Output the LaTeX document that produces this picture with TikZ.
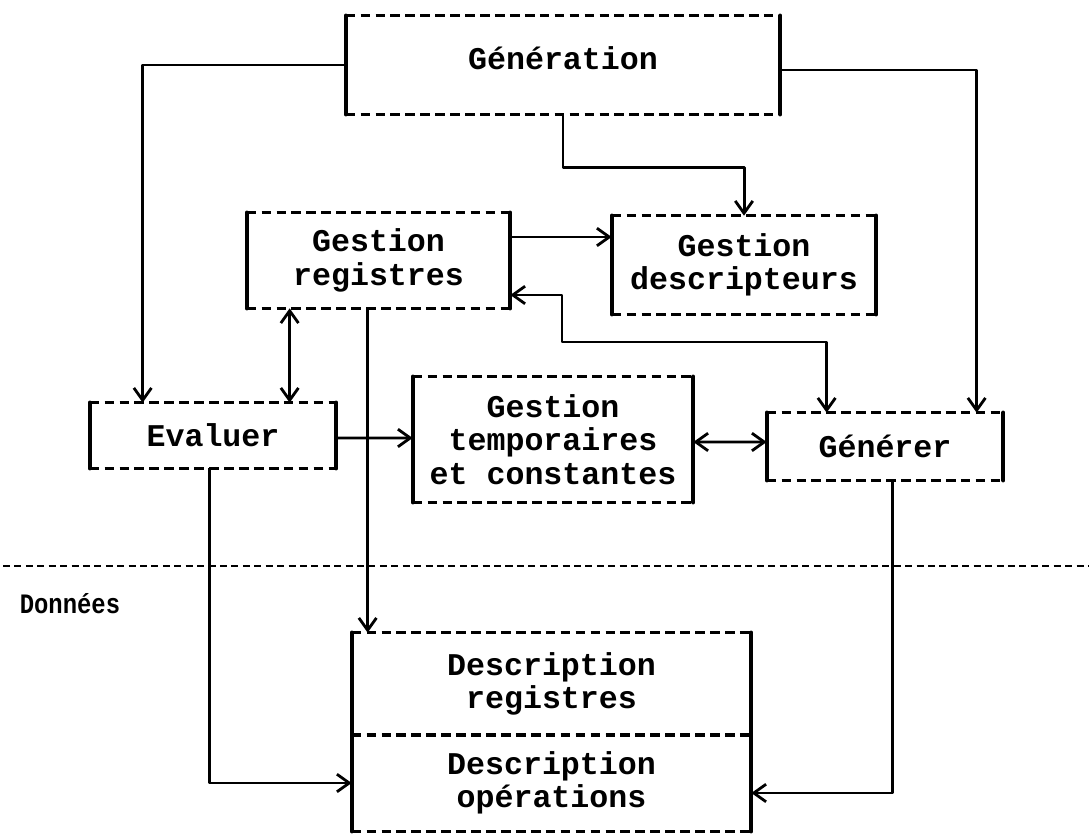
\documentclass[tikz,border=0pt]{standalone}
\usepackage{fontspec}
\setmonofont{Liberation Mono}
\newfontfamily\donfont{Liberation Mono}[FakeStretch=0.85]
\usetikzlibrary{arrows.meta,calc}
\tikzset{
  lbl/.style={rectangle, inner sep=0pt, align=center,
    font=\ttfamily\bfseries\fontsize{18}{19}\selectfont},
  sz/.style 2 args={minimum width=#1*0.02cm, minimum height=#2*0.02cm},
  side/.style={line width=2.4pt, line cap=round},
  rim/.style={line width=2pt, dash pattern=on 5.5pt off 3pt},
  tip/.tip={Straight Barb[length=7pt, width=10pt, line width=1.6pt]},
  conn/.style={line width=1.7pt, line join=round, -tip},
  dconn/.style={line width=1.7pt, line join=round, tip-tip},
  sep/.style={line width=1.4pt, dash pattern=on 4pt off 2.5pt},
}
% solid left and right sides, dashed top and bottom
\newcommand\boxsides[1]{%
  \draw[side] (#1.north west) -- (#1.south west) (#1.north east) -- (#1.south east);
  \draw[rim] (#1.north west) -- (#1.north east) (#1.south west) -- (#1.south east);
}
\begin{document}
\begin{tikzpicture}[x=0.02cm, y=-0.02cm]
\useasboundingbox (0,0) rectangle (1089,834);

% modules
\node[lbl, sz={434}{98}]  (gen)    at (563,65)    {\raisebox{8pt}{Génération}};
\node[lbl, sz={263}{95}]  (greg)   at (378.5,260.5) {Gestion\\registres};
\node[lbl, sz={264}{98}]  (gdesc)  at (744,265)   {Gestion\\descripteurs};
\node[lbl, sz={246}{65}]  (eval)   at (213,435.5) {Evaluer};
\node[lbl, sz={280}{125}] (gtemp)  at (553,439.5) {Gestion\\temporaires\\et constantes};
\node[lbl, sz={236}{67}]  (gener)  at (885,446.5) {Générer};
\node[lbl, sz={399}{102}] (descreg) at (551.5,684) {Description\\registres};
\node[lbl, sz={399}{96}]  (descop)  at (551.5,783) {Description\\opérations};
\foreach \b in {gen,greg,gdesc,eval,gtemp,gener,descreg,descop}{\boxsides{\b}}

% data separator
\coordinate (sepl) at (3,566);
\coordinate (sepr) at (1089,566);
\draw[sep] (sepl) -- (sepr);
\node[font=\donfont\bfseries\fontsize{16}{17}\selectfont, inner sep=0pt] (donnees) at (70,604) {Données};

% connectors
\coordinate (k1) at (562,342);
\draw[conn] (gen.west) -| ($(eval.north west)+(53,0)$);
\draw[conn] ($(gen.east)+(0,5)$) -| ($(gener.north west)+(210,0)$);
\draw[conn] (gen.south) -- ++(0,53) -| (gdesc.north);
\draw[conn] ($(greg.east)+(0,-23.5)$) -- ($(gdesc.west)+(0,-28)$);
\draw[dconn] ($(greg.east)+(0,34.5)$) -| (k1) -| ($(gener.north west)+(60,0)$);
\draw[dconn] ($(greg.south west)+(43,0)$) -- ($(eval.north west)+(200,0)$);
\draw[conn] ($(greg.south west)+(121,0)$) -- ($(descreg.north west)+(16,0)$);
\draw[conn] ($(eval.east)+(0,2.5)$) -- ($(gtemp.west)+(0,-1.5)$);
\draw[dconn] ($(gtemp.east)+(0,2.5)$) -- ($(gener.west)+(0,-4.5)$);
\draw[conn] ($(eval.south west)+(120,0)$) |- (descop.west);
\draw[conn] ($(gener.south west)+(126,0)$) |- ($(descop.east)+(0,10)$);
\end{tikzpicture}
\end{document}
